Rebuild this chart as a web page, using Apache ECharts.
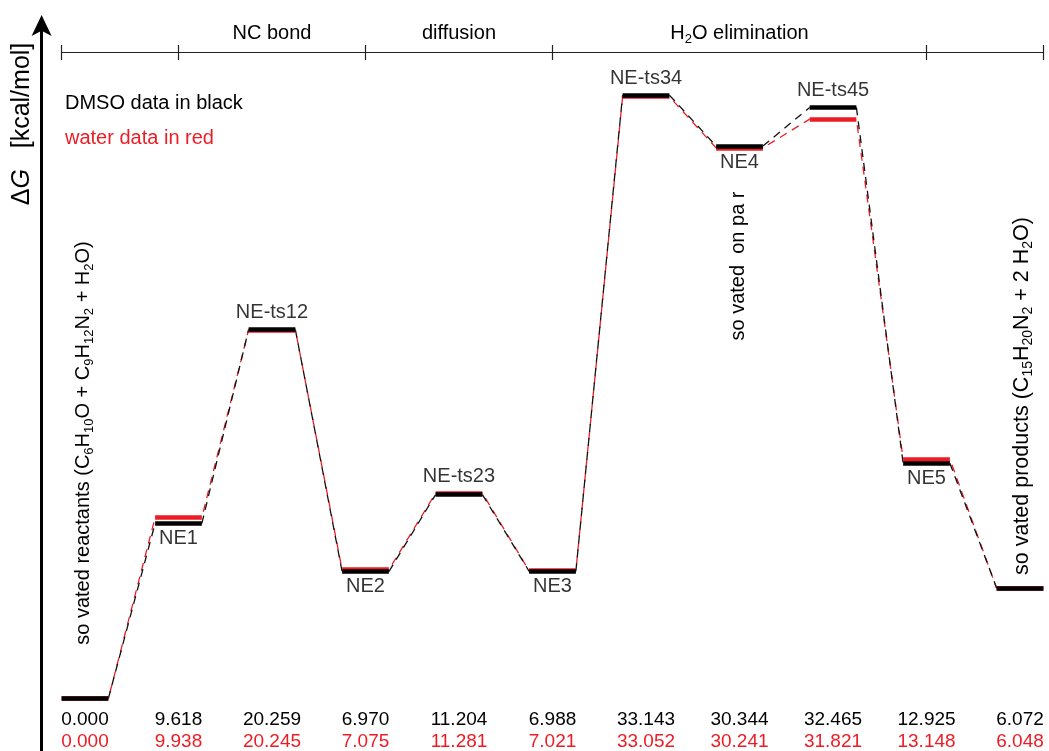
<!DOCTYPE html>
<html>
<head>
<meta charset="utf-8">
<script src="https://cdn.jsdelivr.net/npm/echarts@6/dist/echarts.min.js"></script>
<style>
html,body{margin:0;padding:0;background:#fff;}
#main{width:1049px;height:751px;}
</style>
</head>
<body>
<div id="main"></div>
<script>
// ---- data ----
const states = ['R', 'NE1', 'NE-ts12', 'NE2', 'NE-ts23', 'NE3', 'NE-ts34', 'NE4', 'NE-ts45', 'NE5', 'P'];
const stateLabels = ['', 'NE1', 'NE-ts12', 'NE2', 'NE-ts23', 'NE3', 'NE-ts34', 'NE4', 'NE-ts45', 'NE5', ''];
const dmso = [0.000, 9.618, 20.259, 6.970, 11.204, 6.988, 33.143, 30.344, 32.465, 12.925, 6.072];
const water = [0.000, 9.938, 20.245, 7.075, 11.281, 7.021, 33.052, 30.241, 31.821, 13.148, 6.048];
const stageStart = [1, 3, 5];
const stageEnd = [3, 5, 9];
const stageNames = ['NC bond', 'diffusion', 'H2O elimination'];
const bracketTicks = [-0.25, 1, 3, 5, 9, 10.25];

// ---- styling ----
const FONT = "'Liberation Sans', Arial, Helvetica, sans-serif";
const RED = '#ed1c24';
const BLACK = '#000000';
const H = 0.25; // half width of a level bar (in state units)
const xMin = -0.25, xMax = 10.25;
const yMin = -2.854, yMax = 37.157;

function barData(v) {
  return v.map((y, i) => ({ coords: [[i - H, y], [i + H, y]] }));
}
function connData(v) {
  const out = [];
  for (let i = 0; i < v.length - 1; i++) out.push({ coords: [[i + H, v[i]], [i + 1 - H, v[i + 1]]] });
  return out;
}
function subText(s) {
  return s.replace(/([A-Za-z\)])(\d+)/g, (m, a, d) => a + '}{s|' + d + '}{n|');
}
function rich(size) {
  return {
    n: { fontSize: size, fontFamily: FONT, color: BLACK, lineHeight: 26, verticalAlign: 'middle' },
    s: { fontSize: Math.round(size * 0.66), fontFamily: FONT, color: BLACK, lineHeight: 14, verticalAlign: 'bottom' }
  };
}

const labelData = [];
states.forEach((s, i) => {
  if (!stateLabels[i]) return;
  const isTs = stateLabels[i].indexOf('ts') >= 0;
  labelData.push({
    value: [i, isTs ? Math.max(dmso[i], water[i]) : Math.min(dmso[i], water[i])],
    name: stateLabels[i],
    label: { position: isTs ? 'top' : 'bottom', distance: isTs ? 7 : 5 }
  });
});

const chart = echarts.init(document.getElementById('main'), null, { renderer: 'canvas' });
const option = {
  animation: false,
  backgroundColor: '#fff',
  grid: { left: 61.6, right: 5.6, top: 22, bottom: 0, containLabel: false },
  xAxis: [
    {
      type: 'value', min: xMin, max: xMax, position: 'bottom',
      axisLine: { show: false, onZero: false }, axisTick: { show: false }, splitLine: { show: false },
      axisLabel: {
        inside: true, margin: -2,
        customValues: states.map((s, i) => i),
        formatter: v => '{b|' + dmso[v].toFixed(3) + '}\n{r|' + water[v].toFixed(3) + '}',
        rich: {
          b: { fontSize: 19, fontFamily: FONT, color: BLACK, lineHeight: 22 },
          r: { fontSize: 19, fontFamily: FONT, color: RED, lineHeight: 22 }
        }
      }
    },
    {
      type: 'value', min: xMin, max: xMax, position: 'top', offset: -30,
      axisLine: { show: true, onZero: false, lineStyle: { color: '#222', width: 1.2 } },
      axisTick: { show: true, customValues: bracketTicks, length: 7, lineStyle: { color: '#222', width: 1.2 } },
      splitLine: { show: false },
      axisLabel: {
        margin: 6,
        customValues: stageStart.map((a, i) => (a + stageEnd[i]) / 2),
        formatter: v => {
          const k = stageStart.findIndex((a, i) => (a + stageEnd[i]) / 2 === v);
          return '{n|' + subText(stageNames[k]) + '}';
        },
        rich: rich(20)
      }
    },
    {
      type: 'value', min: xMin, max: xMax, position: 'top', offset: -30,
      axisLine: { show: false, onZero: false },
      axisTick: { show: true, inside: true, customValues: bracketTicks, length: 8, lineStyle: { color: '#222', width: 1.2 } },
      splitLine: { show: false }, axisLabel: { show: false }
    }
  ],
  yAxis: {
    type: 'value', min: yMin, max: yMax, offset: 20,
    axisLine: { show: true, onZero: false, symbol: ['none', 'arrow'], symbolSize: [15, 21], symbolOffset: [0, 7], lineStyle: { color: BLACK, width: 3 } },
    axisTick: { show: false }, axisLabel: { show: false }, splitLine: { show: false }
  },
  series: [
    {
      type: 'lines', coordinateSystem: 'cartesian2d', xAxisIndex: 0, yAxisIndex: 0, z: 2,
      lineStyle: { color: RED, width: 1.3, type: [8, 6], dashOffset: 8, opacity: 1 },
      data: connData(water), silent: true
    },
    {
      type: 'lines', coordinateSystem: 'cartesian2d', xAxisIndex: 0, yAxisIndex: 0, z: 3,
      lineStyle: { color: '#111', width: 1.3, type: [8, 6], opacity: 1 },
      data: connData(dmso), silent: true
    },
    {
      type: 'lines', coordinateSystem: 'cartesian2d', xAxisIndex: 0, yAxisIndex: 0, z: 4,
      lineStyle: { color: RED, width: 4.5, type: 'solid', cap: 'butt', opacity: 1 },
      data: barData(water), silent: true
    },
    {
      type: 'lines', coordinateSystem: 'cartesian2d', xAxisIndex: 0, yAxisIndex: 0, z: 5,
      lineStyle: { color: BLACK, width: 4.5, type: 'solid', cap: 'butt', opacity: 1 },
      data: barData(dmso), silent: true
    },
    {
      type: 'scatter', xAxisIndex: 0, yAxisIndex: 0, symbolSize: 0, z: 6, silent: true,
      data: labelData,
      label: {
        show: true, formatter: p => p.name,
        fontSize: 20, fontFamily: FONT, color: BLACK
      }
    }
  ],
  graphic: [
    {
      type: 'text', x: 22, y: 124, rotation: Math.PI / 2,
      style: {
        text: '{d|Δ}{g|G}{d|   [kcal/mol]}',
        rich: {
          d: { fontSize: 25, fontFamily: FONT, fill: BLACK },
          g: { fontSize: 25, fontFamily: FONT, fontStyle: 'italic', fill: BLACK }
        },
        textAlign: 'center', textVerticalAlign: 'middle'
      }
    },
    {
      type: 'text', x: 65, y: 103,
      style: { text: 'DMSO data in black', font: '20px ' + FONT, fill: BLACK, textAlign: 'left', textVerticalAlign: 'middle' }
    },
    {
      type: 'text', x: 65, y: 138,
      style: { text: 'water data in red', font: '20px ' + FONT, fill: RED, textAlign: 'left', textVerticalAlign: 'middle' }
    },
    {
      type: 'text', x: 83, y: 443, rotation: Math.PI / 2,
      style: {
        text: '{n|' + subText('so vated reactants (C6H10O + C9H12N2 + H2O)') + '}',
        rich: rich(20), textAlign: 'center', textVerticalAlign: 'middle'
      }
    },
    {
      type: 'text', x: 738, y: 266, rotation: Math.PI / 2,
      style: {
        text: '{n|so vated  on pa r}',
        rich: rich(20), textAlign: 'center', textVerticalAlign: 'middle'
      }
    },
    {
      type: 'text', x: 1022, y: 396, rotation: Math.PI / 2,
      style: {
        text: '{n|' + subText('so vated products (C15H20N2 + 2 H2O)') + '}',
        rich: rich(21.5), textAlign: 'center', textVerticalAlign: 'middle'
      }
    }
  ]
};
chart.setOption(option);
</script>
</body>
</html>
